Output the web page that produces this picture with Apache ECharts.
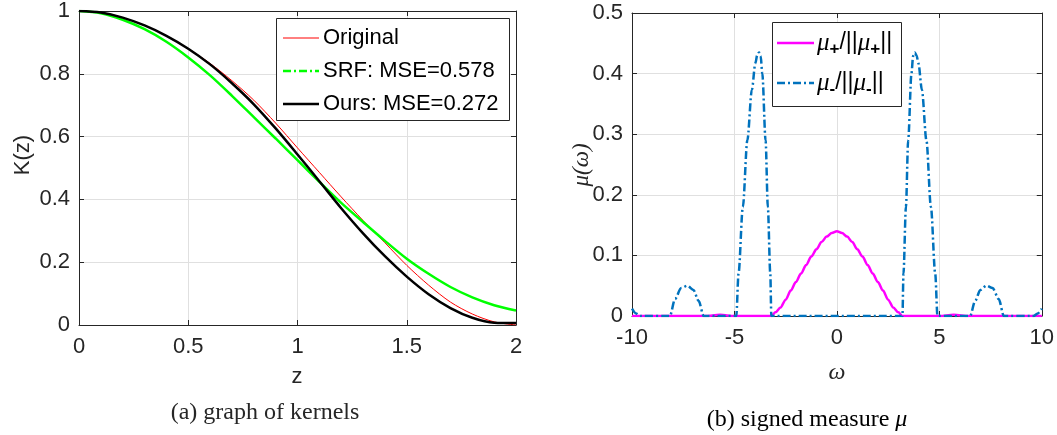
<!DOCTYPE html>
<html>
<head>
<meta charset="utf-8">
<script src="https://cdn.jsdelivr.net/npm/echarts@6/dist/echarts.min.js"></script>
<style>
html,body{margin:0;padding:0;background:#fff;}
#chart{width:1057px;height:435px;}
</style>
</head>
<body>
<div id="chart"></div>
<script>
// ---- Panel (a): kernels ----
const zVals    = [0, 0.1, 0.2, 0.3, 0.4, 0.5, 0.6, 0.7, 0.8, 0.9, 1.0, 1.1, 1.2, 1.3, 1.4, 1.5, 1.6, 1.7, 1.8, 1.9, 2.0];
const original = [1.000, 0.995, 0.979, 0.954, 0.921, 0.880, 0.833, 0.778, 0.716, 0.643, 0.564, 0.486, 0.408, 0.333, 0.262, 0.190, 0.127, 0.073, 0.035, 0.010, 0.000];
const srf      = [1.000, 0.993, 0.972, 0.942, 0.902, 0.852, 0.795, 0.730, 0.662, 0.594, 0.525, 0.456, 0.389, 0.328, 0.268, 0.211, 0.163, 0.121, 0.088, 0.063, 0.046];
const ours     = [1.000, 0.995, 0.979, 0.954, 0.921, 0.880, 0.830, 0.770, 0.703, 0.626, 0.543, 0.458, 0.372, 0.292, 0.219, 0.154, 0.098, 0.054, 0.023, 0.007, 0.006];
const kernelNames = ['Original', 'SRF: MSE=0.578', 'Ours: MSE=0.272'];

// ---- Panel (b): signed measure ----
const omegaPlus = [-10, -6.45, -5.7, -5.0, -3.2, -3.0, -2.75, -2.5, -2.25, -2.0, -1.75, -1.5, -1.25, -1.0, -0.75, -0.5, -0.25, 0,
                   0.25, 0.5, 0.75, 1.0, 1.25, 1.5, 1.75, 2.0, 2.25, 2.5, 2.75, 3.0, 3.2, 5.0, 5.7, 6.45, 10];
const muPlus    = [0, 0, 0.002, 0, 0, 0.006, 0.014, 0.027, 0.042, 0.056, 0.070, 0.084, 0.098, 0.110, 0.122, 0.131, 0.137, 0.140,
                   0.137, 0.131, 0.122, 0.110, 0.098, 0.084, 0.070, 0.056, 0.042, 0.027, 0.014, 0.006, 0, 0, 0.002, 0, 0];
const omegaMinus = [-10, -9.8, -9.6, -8.15, -7.9, -7.6, -7.3, -7.0, -6.75, -6.5,
                    -4.91, -4.80, -4.59, -4.37, -4.15, -3.98, -3.89, -3.80, -3.72, -3.64, -3.48, -3.37, -3.25, -3.20,
                    3.20, 3.25, 3.37, 3.48, 3.64, 3.72, 3.80, 3.89, 3.98, 4.15, 4.37, 4.59, 4.80, 4.91,
                    6.5, 6.75, 7.0, 7.3, 7.6, 7.9, 8.15, 9.6, 9.8, 10];
const muMinus    = [0.012, 0.004, 0, 0, 0.028, 0.046, 0.050, 0.043, 0.025, 0,
                    0, 0.07, 0.18, 0.29, 0.373, 0.417, 0.430, 0.435, 0.429, 0.40, 0.29, 0.18, 0.07, 0,
                    0, 0.07, 0.18, 0.29, 0.40, 0.429, 0.435, 0.430, 0.417, 0.373, 0.29, 0.18, 0.07, 0,
                    0, 0.025, 0.043, 0.050, 0.046, 0.028, 0, 0, 0.004, 0.012];

// axis tick settings
const xTicksA = {min: 0, max: 2, interval: 0.5};
const yTicksA = {min: 0, max: 1, interval: 0.2};
const xTicksB = {min: -10, max: 10, interval: 5};
const yTicksB = {min: 0, max: 0.5, interval: 0.1};

const zip = (xs, ys) => xs.map((x, i) => [x, ys[i]]);

const AX = '#262626';
const SANS = '"Liberation Sans", Arial, sans-serif';
const SERIF = '"Liberation Serif", "Times New Roman", serif';
const dashDot = [8, 3, 2, 3];

function mainAxis(t, pos, gridIndex) {
  return {
    type: 'value', gridIndex, position: pos, min: t.min, max: t.max, interval: t.interval,
    axisLine: {show: true, onZero: false, lineStyle: {color: AX, width: 1}},
    axisTick: {show: true, inside: true, length: 5, lineStyle: {color: AX}},
    axisLabel: {show: true, color: AX, fontFamily: SANS, fontSize: 22,
                margin: (pos === 'bottom') ? 11 : 9},
    splitLine: {show: true, lineStyle: {color: '#e0e0e0', width: 1}}
  };
}
function mirrorAxis(t, pos, gridIndex) {
  return {
    type: 'value', gridIndex, position: pos, min: t.min, max: t.max, interval: t.interval,
    axisLine: {show: true, onZero: false, lineStyle: {color: AX, width: 1}},
    axisTick: {show: true, inside: true, length: 5, lineStyle: {color: AX}},
    axisLabel: {show: false},
    splitLine: {show: false}
  };
}

const chart = echarts.init(document.getElementById('chart'), null, {renderer: 'canvas'});

function ctext(x, y, text, font, extra) {
  return Object.assign({type: 'text', x: x, y: y, z: 100,
    style: {text: text, font: font, fill: AX, align: 'center', verticalAlign: 'middle', textAlign: 'center', textVerticalAlign: 'middle'}}, extra || {});
}
function legendLine(x1, x2, y, color, width, dash) {
  return {type: 'line', z: 101, shape: {x1: x1, y1: y, x2: x2, y2: y},
          style: {stroke: color, lineWidth: width, lineDash: dash || null}};
}
function legendText(x, y, text, rich) {
  const st = {text: text, fill: '#000', align: 'left', verticalAlign: 'middle', textAlign: 'left', textVerticalAlign: 'middle'};
  if (rich) st.rich = rich; else st.font = '22px ' + SANS;
  return {type: 'text', x: x, y: y, z: 101, style: st};
}
const muRich = {
  m: {fontFamily: SERIF, fontStyle: 'italic', fontSize: 25, fill: '#000', lineHeight: 30, verticalAlign: 'middle'},
  s: {fontFamily: SANS, fontWeight: 'bold', fontSize: 17, fill: '#000', lineHeight: 14, verticalAlign: 'bottom'},
  t: {fontFamily: SANS, fontSize: 23, fill: '#000', lineHeight: 30, verticalAlign: 'middle'}
};

const option = {
  animation: false,
  backgroundColor: '#fff',
  grid: [
    {left: 79, right: 541, top: 10, bottom: 110, containLabel: false},
    {left: 632, right: 15, top: 13, bottom: 119, containLabel: false}
  ],
  xAxis: [
    mainAxis(xTicksA, 'bottom', 0), mirrorAxis(xTicksA, 'top', 0),
    mainAxis(xTicksB, 'bottom', 1), mirrorAxis(xTicksB, 'top', 1)
  ],
  yAxis: [
    mainAxis(yTicksA, 'left', 0), mirrorAxis(yTicksA, 'right', 0),
    mainAxis(yTicksB, 'left', 1), mirrorAxis(yTicksB, 'right', 1)
  ],
  series: [
    {name: kernelNames[0], type: 'line', xAxisIndex: 0, yAxisIndex: 0, data: zip(zVals, original),
     smooth: 0.3, symbol: 'none', lineStyle: {color: '#ff0000', width: 1}, itemStyle: {color: '#ff0000'}},
    {name: kernelNames[1], type: 'line', xAxisIndex: 0, yAxisIndex: 0, data: zip(zVals, srf),
     smooth: 0.3, symbol: 'none', lineStyle: {color: '#00ff00', width: 2.5}, itemStyle: {color: '#00ff00'}},
    {name: kernelNames[2], type: 'line', xAxisIndex: 0, yAxisIndex: 0, data: zip(zVals, ours),
     smooth: 0.3, symbol: 'none', lineStyle: {color: '#000000', width: 2.5}, itemStyle: {color: '#000000'}},
    {name: 'mu_plus', type: 'line', xAxisIndex: 2, yAxisIndex: 2, data: zip(omegaPlus, muPlus),
     smooth: 0.3, smoothMonotone: 'x', symbol: 'none', lineStyle: {color: '#ff00ff', width: 2.5}, itemStyle: {color: '#ff00ff'}},
    {name: 'mu_minus', type: 'line', xAxisIndex: 2, yAxisIndex: 2, data: zip(omegaMinus, muMinus),
     smooth: 0.3, smoothMonotone: 'x', symbol: 'none', lineStyle: {color: '#0072bd', width: 2.5, type: dashDot}, itemStyle: {color: '#0072bd'}}
  ],
  graphic: [
    // axis titles
    ctext(23, 155, 'K(z)', '22px ' + SANS, {rotation: Math.PI / 2}),
    ctext(297, 377, 'z', '22px ' + SANS),
    ctext(582, 165, 'μ(ω)', 'italic 23px ' + SERIF, {rotation: Math.PI / 2}),
    ctext(837, 373, 'ω', 'italic 24px ' + SERIF),
    // captions
    ctext(265, 413, '(a) graph of kernels', '24px ' + SERIF),
    {type: 'text', x: 807, y: 420,
     style: {text: '{r|(b) signed measure }{i|μ}', fill: '#000', align: 'center', verticalAlign: 'middle', textAlign: 'center', textVerticalAlign: 'middle',
             rich: {r: {fontFamily: SERIF, fontSize: 24, fill: '#000'}, i: {fontFamily: SERIF, fontSize: 24, fontStyle: 'italic', fill: '#000'}}}},
    // legend (a)
    {type: 'rect', z: 100, shape: {x: 276.5, y: 18.5, width: 233, height: 102},
     style: {fill: '#fff', stroke: AX, lineWidth: 1}},
    legendLine(283, 319, 38, '#ff0000', 1),
    legendLine(283, 319, 71, '#00ff00', 2.5, dashDot),
    legendLine(283, 319, 104, '#000000', 2.5),
    legendText(323, 38, kernelNames[0]),
    legendText(323, 71, kernelNames[1]),
    legendText(323, 104, kernelNames[2]),
    // legend (b)
    {type: 'rect', z: 100, shape: {x: 772.5, y: 22.5, width: 129, height: 84},
     style: {fill: '#fff', stroke: AX, lineWidth: 1}},
    legendLine(777, 814, 43, '#ff00ff', 2.5),
    legendLine(777, 814, 83, '#0072bd', 2.5, dashDot),
    legendText(817, 43, '{m|μ}{s|+}{t|/||}{m|μ}{s|+}{t|||}', muRich),
    legendText(817, 83, '{m|μ}{s|-}{t|/||}{m|μ}{s|-}{t|||}', muRich)
  ]
};
chart.setOption(option);
</script>
</body>
</html>
